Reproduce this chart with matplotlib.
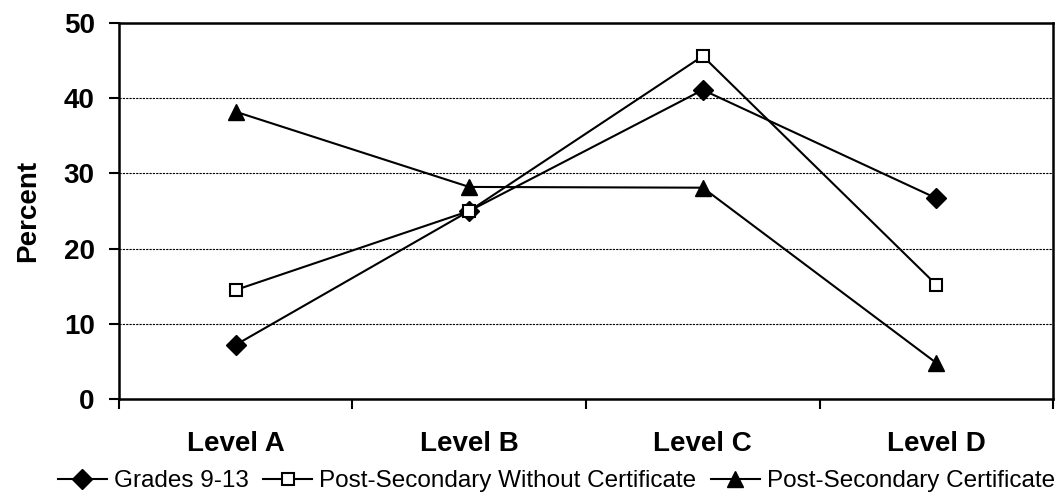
import matplotlib.pyplot as plt
from matplotlib import font_manager as fm
from matplotlib.ticker import FixedLocator

levels = ["Level A", "Level B", "Level C", "Level D"]
grades_9_13 = [7.2, 25.0, 41.1, 26.7]
ps_without_cert = [14.5, 25.0, 45.6, 15.2]
ps_cert = [38.2, 28.2, 28.1, 4.8]

bold = fm.FontProperties(family=['Liberation Sans', 'DejaVu Sans'], weight='bold', size=20)
legend_font = fm.FontProperties(family=['Liberation Sans', 'DejaVu Sans'], size=17.5)

fig = plt.figure(figsize=(10.64, 5.0), dpi=100)
ax = fig.add_axes([0.1118, 0.202, 0.8779, 0.752])

x = list(range(len(levels)))
ax.plot(x, grades_9_13, color='black', lw=1.5, marker='D', markersize=10,
        markerfacecolor='black', label='Grades 9-13', zorder=3)
ax.plot(x, ps_without_cert, color='black', lw=1.5, marker='s', markersize=9,
        markerfacecolor='white', markeredgewidth=1.5,
        label='Post-Secondary Without Certificate', zorder=3)
ax.plot(x, ps_cert, color='black', lw=1.5, marker='^', markersize=12,
        markerfacecolor='black', label='Post-Secondary Certificate', zorder=3)

ax.set_xlim(-0.5, len(levels) - 0.5)
ax.set_ylim(0, 50)
ax.set_yticks([0, 10, 20, 30, 40, 50])
ax.yaxis.grid(True, color='black', lw=0.8, linestyle=(0, (2, 1)))
ax.set_axisbelow(True)

# category boundaries get tick marks, labels sit at the centres
ax.xaxis.set_major_locator(FixedLocator([i - 0.5 for i in range(len(levels) + 1)]))
ax.set_xticklabels([])
ax.xaxis.set_minor_locator(FixedLocator(x))
ax.set_xticklabels(levels, minor=True)
ax.tick_params(axis='x', which='major', direction='out', length=7, width=1.5)
ax.tick_params(axis='x', which='minor', length=0, pad=23)
ax.tick_params(axis='y', direction='out', length=7.5, width=1.5, pad=10)
for lab in ax.get_xticklabels(minor=True) + ax.get_yticklabels():
    lab.set_fontproperties(bold)

for s in ax.spines.values():
    s.set_linewidth(1.8)

ax.set_ylabel('Percent', fontproperties=bold, labelpad=16)

fig.legend(loc='center', bbox_to_anchor=(0.523, 0.038), ncol=3, frameon=False,
           prop=legend_font, handlelength=2.0, handletextpad=0.3, columnspacing=0.6)

fig.savefig('out.png', dpi=100)
